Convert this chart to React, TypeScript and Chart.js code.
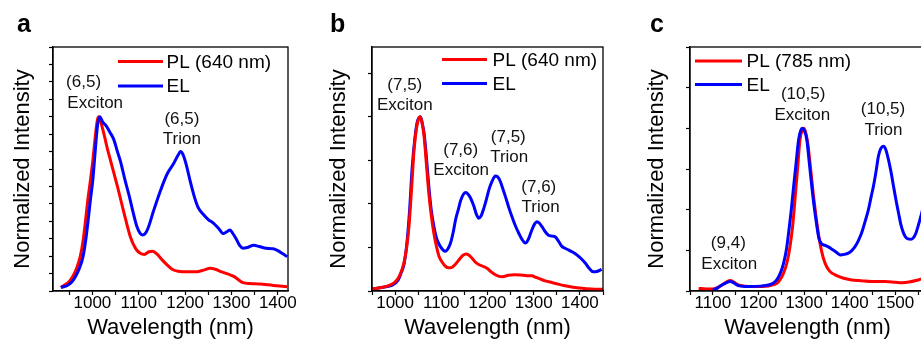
import React, { useEffect, useRef } from 'react';
import { Chart, registerables } from 'chart.js';

Chart.register(...registerables);

const FONT = '"Liberation Sans", Arial, Helvetica, sans-serif';
const RED = '#ff0000';
const BLUE = '#0000ff';

// ---------- Panel a : (6,5) ----------
const aPLWavelength = [932, 940, 950, 958, 966, 974, 980, 985, 990, 996, 1001, 1006, 1010, 1013, 1018, 1025, 1032, 1040, 1054, 1068, 1082, 1094, 1104, 1112, 1122, 1130, 1140, 1150, 1161, 1172, 1185, 1204, 1225, 1240, 1254, 1265, 1279, 1295, 1304, 1315, 1325, 1340, 1361, 1390, 1420];
const aPL = [0.022, 0.035, 0.055, 0.085, 0.13, 0.2, 0.29, 0.4, 0.52, 0.64, 0.75, 0.88, 0.97, 1.0, 0.97, 0.9, 0.82, 0.74, 0.6, 0.45, 0.31, 0.24, 0.215, 0.21, 0.225, 0.228, 0.21, 0.18, 0.15, 0.125, 0.113, 0.11, 0.11, 0.12, 0.13, 0.125, 0.11, 0.095, 0.085, 0.065, 0.048, 0.043, 0.04, 0.032, 0.025];
const aELWavelength = [932, 945, 955, 963, 972, 980, 986, 991, 996, 1001, 1006, 1011, 1016, 1022, 1029, 1038, 1046, 1054, 1061, 1070, 1079, 1088, 1096, 1103, 1108, 1114, 1120, 1132, 1146, 1161, 1175, 1185, 1190, 1196, 1203, 1211, 1220, 1228, 1239, 1250, 1261, 1272, 1282, 1290, 1297, 1303, 1310, 1318, 1325, 1335, 1348, 1360, 1375, 1390, 1400, 1410, 1420];
const aEL = [0.02, 0.03, 0.05, 0.08, 0.13, 0.2, 0.3, 0.41, 0.53, 0.64, 0.8, 0.95, 1.0, 0.97, 0.95, 0.91, 0.87, 0.8, 0.74, 0.64, 0.55, 0.45, 0.37, 0.33, 0.322, 0.33, 0.36, 0.46, 0.57, 0.67, 0.73, 0.78, 0.8, 0.78, 0.72, 0.63, 0.54, 0.48, 0.44, 0.41, 0.39, 0.36, 0.33, 0.34, 0.35, 0.33, 0.3, 0.26, 0.245, 0.25, 0.262, 0.255, 0.245, 0.242, 0.232, 0.215, 0.197];
const aNoteText = ['(6,5)', 'Exciton', '(6,5)', 'Trion'];
const aNoteX = [981, 1006, 1193, 1193];
const aNoteY = [1.2, 1.076, 0.987, 0.872];
const aLegend = ['PL (640 nm)', 'EL'];

// ---------- Panel b : (7,5) ----------
const bPLWavelength = [950, 970, 990, 1001, 1010, 1019, 1025, 1030, 1036, 1041, 1046, 1051, 1054, 1058, 1063, 1068, 1073, 1078, 1084, 1090, 1095, 1102, 1109, 1116, 1122, 1130, 1138, 1147, 1154, 1160, 1167, 1174, 1181, 1190, 1199, 1208, 1217, 1225, 1232, 1245, 1258, 1271, 1285, 1296, 1305, 1315, 1325, 1340, 1355, 1368, 1385, 1404, 1425, 1450];
const bPL = [0.012, 0.02, 0.035, 0.054, 0.09, 0.16, 0.25, 0.37, 0.6, 0.81, 0.93, 0.99, 1.0, 0.97, 0.88, 0.72, 0.56, 0.44, 0.33, 0.25, 0.2, 0.165, 0.142, 0.133, 0.134, 0.152, 0.178, 0.205, 0.212, 0.205, 0.187, 0.165, 0.152, 0.142, 0.13, 0.11, 0.093, 0.084, 0.082, 0.09, 0.093, 0.092, 0.088, 0.087, 0.078, 0.068, 0.058, 0.048, 0.038, 0.03, 0.022, 0.016, 0.012, 0.01];
const bELWavelength = [950, 975, 994, 1006, 1014, 1019, 1025, 1031, 1037, 1043, 1048, 1052, 1055, 1059, 1063, 1068, 1073, 1078, 1084, 1090, 1097, 1104, 1109, 1115, 1120, 1126, 1131, 1137, 1142, 1148, 1153, 1158, 1163, 1170, 1176, 1181, 1186, 1192, 1198, 1203, 1210, 1217, 1222, 1228, 1234, 1239, 1246, 1253, 1261, 1268, 1275, 1282, 1289, 1296, 1302, 1307, 1312, 1318, 1325, 1332, 1340, 1347, 1354, 1361, 1368, 1376, 1385, 1394, 1403, 1412, 1420, 1429, 1437, 1447];
const bEL = [0.012, 0.022, 0.034, 0.06, 0.11, 0.15, 0.26, 0.45, 0.71, 0.88, 0.97, 0.995, 1.0, 0.96, 0.9, 0.76, 0.6, 0.47, 0.37, 0.3, 0.26, 0.235, 0.228, 0.245, 0.275, 0.34, 0.41, 0.47, 0.52, 0.555, 0.565, 0.555, 0.535, 0.49, 0.44, 0.418, 0.43, 0.474, 0.53, 0.58, 0.63, 0.66, 0.655, 0.627, 0.58, 0.54, 0.48, 0.426, 0.37, 0.33, 0.295, 0.275, 0.3, 0.35, 0.385, 0.398, 0.39, 0.369, 0.34, 0.32, 0.315, 0.31, 0.285, 0.256, 0.245, 0.235, 0.222, 0.206, 0.185, 0.159, 0.13, 0.11, 0.112, 0.124];
const bNoteText = ['(7,5)', 'Exciton', '(7,6)', 'Exciton', '(7,5)', 'Trion', '(7,6)', 'Trion'];
const bNoteX = [1021, 1021, 1142, 1143, 1245, 1247, 1311, 1315];
const bNoteY = [1.178, 1.063, 0.809, 0.69, 0.881, 0.767, 0.595, 0.48];
const bLegend = ['PL (640 nm)', 'EL'];

// ---------- Panel c : (10,5) ----------
const cPLWavelength = [1069, 1085, 1098, 1110, 1120, 1130, 1138, 1146, 1156, 1170, 1185, 1205, 1222, 1235, 1245, 1255, 1263, 1269, 1275, 1280, 1286, 1291, 1296, 1299, 1303, 1308, 1314, 1320, 1326, 1331, 1338, 1346, 1355, 1368, 1385, 1404, 1425, 1448, 1477, 1500, 1514, 1530, 1550, 1565];
const cPL = [0.016, 0.013, 0.012, 0.02, 0.037, 0.055, 0.064, 0.055, 0.037, 0.03, 0.027, 0.028, 0.031, 0.04, 0.06, 0.109, 0.18, 0.27, 0.4, 0.56, 0.76, 0.93, 0.99, 1.0, 0.98, 0.91, 0.76, 0.6, 0.46, 0.36, 0.25, 0.17, 0.125, 0.099, 0.08, 0.068, 0.063, 0.058, 0.058, 0.054, 0.051, 0.055, 0.068, 0.08];
const cELWavelength = [1100, 1110, 1120, 1130, 1138, 1146, 1156, 1170, 1185, 1205, 1222, 1232, 1240, 1248, 1255, 1261, 1266, 1272, 1277, 1283, 1288, 1293, 1296, 1300, 1306, 1311, 1317, 1322, 1328, 1332, 1337, 1346, 1354, 1361, 1370, 1379, 1388, 1397, 1405, 1412, 1419, 1426, 1434, 1441, 1447, 1452, 1458, 1463, 1468, 1474, 1479, 1483, 1490, 1496, 1502, 1507, 1512, 1518, 1523, 1528, 1534, 1539, 1545, 1550, 1556, 1565];
const cEL = [0.006, 0.018, 0.037, 0.052, 0.058, 0.05, 0.033, 0.028, 0.027, 0.03, 0.037, 0.048, 0.068, 0.11, 0.17, 0.25, 0.356, 0.5, 0.64, 0.8, 0.93, 0.99, 1.0, 0.99, 0.93, 0.8, 0.64, 0.52, 0.4, 0.33, 0.294, 0.28, 0.27, 0.257, 0.24, 0.222, 0.225, 0.233, 0.25, 0.274, 0.31, 0.356, 0.43, 0.5, 0.58, 0.644, 0.74, 0.83, 0.875, 0.89, 0.87, 0.83, 0.74, 0.644, 0.55, 0.48, 0.41, 0.356, 0.33, 0.32, 0.318, 0.325, 0.355, 0.4, 0.46, 0.56];
const cNoteText = ['(10,5)', 'Exciton', '(10,5)', 'Trion', '(9,4)', 'Exciton'];
const cNoteX = [1298, 1296, 1473, 1474, 1134, 1136];
const cNoteY = [1.208, 1.082, 1.115, 0.99, 0.294, 0.167];
const cLegend = ['PL (785 nm)', 'EL'];

type Panel = {
  letter: string;
  letterX: number;
  plX: number[]; pl: number[];
  elX: number[]; el: number[];
  redOnTop: boolean;
  xMin: number; xMax: number; yMax: number; yStep: number;
  notes: string[]; noteX: number[]; noteY: number[];
  legend: string[];
  left: number; right: number; top: number; bottom: number; titleCx: number; padLeft: number;
  legLine: [number, number]; legY: [number, number]; legText: number;
};

const CANVAS_W = 960;
const CANVAS_H = 345;

const panels: Panel[] = [
  {
    letter: 'a', letterX: 17,
    plX: aPLWavelength, pl: aPL, elX: aELWavelength, el: aEL, redOnTop: false,
    xMin: 915, xMax: 1422, yMax: 1.4, yStep: 0.1,
    notes: aNoteText, noteX: aNoteX, noteY: aNoteY, legend: aLegend,
    left: 53, right: 288, top: 47, bottom: 291, titleCx: 22.5, padLeft: 0,
    legLine: [65, 110], legY: [14.5, 39], legText: 113.5,
  },
  {
    letter: 'b', letterX: 330,
    plX: bPLWavelength, pl: bPL, elX: bELWavelength, el: bEL, redOnTop: true,
    xMin: 950, xMax: 1450, yMax: 1.4, yStep: 0.25,
    notes: bNoteText, noteX: bNoteX, noteY: bNoteY, legend: bLegend,
    left: 372, right: 603, top: 47, bottom: 291, titleCx: 339, padLeft: 300,
    legLine: [70, 115], legY: [12.5, 36.5], legText: 120.5,
  },
  {
    letter: 'c', letterX: 650,
    plX: cPLWavelength, pl: cPL, elX: cELWavelength, el: cEL, redOnTop: false,
    xMin: 1050, xMax: 1565, yMax: 1.5, yStep: 0.25,
    notes: cNoteText, noteX: cNoteX, noteY: cNoteY, legend: cLegend,
    left: 690, right: 925, top: 47, bottom: 291, titleCx: 656.7, padLeft: 620,
    legLine: [5, 52], legY: [14, 37.5], legText: 56.5,
  },
];

const decorPlugin = {
  id: 'decor',
  afterDatasetsDraw(chart: any, _args: any, opts: any) {
    const p: Panel = opts.panel;
    const { ctx, chartArea: ca, scales } = chart;
    ctx.save();
    ctx.strokeStyle = '#000';
    ctx.lineWidth = 1.3;
    ctx.strokeRect(ca.left, ca.top, ca.right - ca.left, ca.bottom - ca.top);
    const colors = [RED, BLUE];
    ctx.font = `19px ${FONT}`;
    ctx.textBaseline = 'middle';
    ctx.textAlign = 'left';
    p.legend.forEach((label, i) => {
      const y = ca.top + p.legY[i];
      ctx.strokeStyle = colors[i];
      ctx.lineWidth = 3;
      ctx.beginPath();
      ctx.moveTo(ca.left + p.legLine[0], y);
      ctx.lineTo(ca.left + p.legLine[1], y);
      ctx.stroke();
      ctx.fillStyle = '#000';
      ctx.fillText(label, ca.left + p.legText, y + 1);
    });
    ctx.font = `17px ${FONT}`;
    ctx.fillStyle = '#111';
    ctx.textAlign = 'center';
    ctx.textBaseline = 'middle';
    p.notes.forEach((t, i) => {
      const x = scales.x.getPixelForValue(p.noteX[i]);
      const y = scales.y.getPixelForValue(p.noteY[i]);
      ctx.fillText(t, x, y);
    });
    ctx.font = `bold 25px ${FONT}`;
    ctx.textAlign = 'left';
    ctx.textBaseline = 'alphabetic';
    ctx.fillStyle = '#000';
    ctx.fillText(p.letter, p.letterX, 32);
    ctx.restore();
  },
};

function PanelChart({ p }: { p: Panel }) {
  const ref = useRef<HTMLCanvasElement | null>(null);
  useEffect(() => {
    if (!ref.current) return;
    const plSet = {
      label: 'PL',
      data: p.plX.map((x, i) => ({ x, y: p.pl[i] })),
      borderColor: RED,
      borderWidth: 3,
      pointRadius: 0,
      cubicInterpolationMode: 'monotone' as const,
      fill: false,
    };
    const elSet = {
      label: 'EL',
      data: p.elX.map((x, i) => ({ x, y: p.el[i] })),
      borderColor: BLUE,
      borderWidth: 3,
      pointRadius: 0,
      cubicInterpolationMode: 'monotone' as const,
      fill: false,
    };
    // Chart.js paints dataset 0 last (on top)
    const datasets = p.redOnTop ? [plSet, elSet] : [elSet, plSet];
    const yWidth = p.left - p.padLeft;
    const titlePad = p.titleCx - p.padLeft - 13.2;
    const chart = new Chart(ref.current, {
      type: 'line',
      data: { datasets },
      plugins: [decorPlugin],
      options: {
        animation: false,
        responsive: false,
        devicePixelRatio: 1,
        events: [],
        layout: {
          padding: { left: p.padLeft, right: CANVAS_W - p.right, top: p.top, bottom: 0 },
        },
        plugins: {
          legend: { display: false },
          tooltip: { enabled: false },
          decor: { panel: p },
        } as any,
        scales: {
          x: {
            type: 'linear',
            min: p.xMin,
            max: p.xMax,
            border: { display: true, color: '#000', width: 1.3 },
            grid: { display: true, drawOnChartArea: false, drawTicks: true, tickLength: 4, tickColor: '#000', tickWidth: 1.2 },
            ticks: {
              stepSize: 50,
              includeBounds: false,
              autoSkip: false,
              maxRotation: 0,
              minRotation: 0,
              padding: 0,
              color: '#000',
              font: { family: FONT, size: 17, lineHeight: 1 },
              callback: (v: any) => (Math.round(v) % 100 === 0 ? String(Math.round(v)) : ''),
            },
            title: {
              display: true,
              text: 'Wavelength (nm)',
              color: '#000',
              font: { family: FONT, size: 22, lineHeight: 1.2 },
              padding: { top: 0, bottom: 4.3 },
            },
            afterFit: (s: any) => { s.height = CANVAS_H - p.bottom; },
          },
          y: {
            type: 'linear',
            min: 0,
            max: p.yMax,
            border: { display: true, color: '#000', width: 1.3 },
            grid: { display: true, drawOnChartArea: false, drawTicks: true, tickLength: 4, tickColor: '#000', tickWidth: 1.2 },
            ticks: {
              stepSize: p.yStep,
              includeBounds: false,
              callback: () => '',
              padding: 0,
            },
            title: {
              display: true,
              text: 'Normalized Intensity',
              color: '#000',
              font: { family: FONT, size: 22, lineHeight: 1.2 },
              padding: { top: titlePad, bottom: 0 },
            },
            afterFit: (s: any) => { s.width = yWidth; },
          },
        },
      } as any,
    });
    return () => chart.destroy();
  }, [p]);
  return (
    <canvas
      ref={ref}
      width={CANVAS_W}
      height={CANVAS_H}
      style={{ position: 'absolute', left: 0, top: 0, width: CANVAS_W, height: CANVAS_H }}
    />
  );
}

export default function App() {
  return (
    <div
      style={{
        position: 'fixed', left: 0, top: 0, width: 921, height: 345,
        overflow: 'hidden', background: '#ffffff',
      }}
    >
      {panels.map((p) => (
        <PanelChart key={p.letter} p={p} />
      ))}
    </div>
  );
}
